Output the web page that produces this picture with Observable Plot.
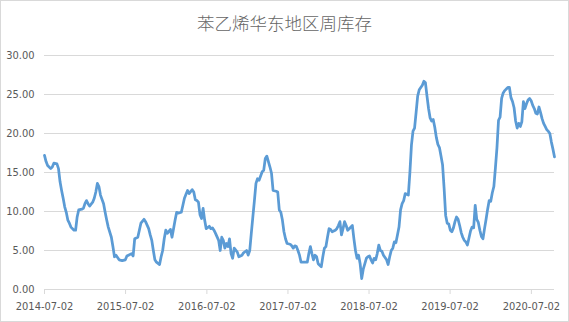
<!DOCTYPE html>
<html><head><meta charset="utf-8">
<script src="https://cdn.jsdelivr.net/npm/d3@7"></script>
<script src="https://cdn.jsdelivr.net/npm/@observablehq/plot@0.6"></script>
<style>
html,body{margin:0;padding:0;background:#fff;}
#chart{position:absolute;left:0;top:0;width:569px;height:322px;box-sizing:border-box;border:1px solid #d9d9d9;background:#fff;overflow:hidden;}
#title{height:39px;box-sizing:border-box;padding-top:11px;text-align:center;font-family:"Noto Sans CJK SC",sans-serif;font-weight:300;font-size:17.5px;line-height:22px;color:#666666;}
</style></head><body>
<div id="chart"><div id="title"></div></div>
<script>
const chartTitle = "苯乙烯华东地区周库存";
const startDate = "2014-07-02";
// week number since 2014-07-02
const weekOffsets = [
0,1,2,4,5,6,8,9,10,11,
12,13,14,15,16,17,19,20,21,22,
24,25,26,27,28,29,31,32,33,34,
35,36,38,39,40,41,43,44,45,46,
48,50,52,53,54,56,57,58,60,61,
62,64,65,67,68,69,70,71,72,74,
75,76,77,78,79,81,82,83,84,85,
86,88,89,90,91,92,93,95,96,97,
98,99,100,101,102,103,104,106,107,108,
109,110,112,113,114,115,116,117,118,119,
120,121,122,124,125,127,128,130,131,132,
133,134,135,136,137,138,140,141,142,143,
144,145,146,147,149,150,151,152,153,154,
155,156,158,159,160,161,162,163,164,165,
167,169,170,171,172,173,174,175,176,177,
178,179,180,181,182,183,184,185,186,187,
188,189,190,191,192,193,194,195,196,198,
199,200,201,202,203,204,205,206,207,208,
209,210,211,212,213,214,215,216,217,218,
220,221,222,223,224,225,226,227,228,229,
230,231,232,234,
235,236,237,238,239,240,241,242,243,244,
245,246,247,248,249,250,251,252,253,254,
255,256,257,258,259,260,261,262,263,264,
265,266,267,268,269,270,271,272,273,274,
275,276,277,278,279,280,281,282,283,284,
285,286,287,288,289,290,291,292,293,294,
295,296,297,298,299,300,301,302,303,304,
305,306,307,308,309,310,311,312,313,314,
315,316,317,318,319,320,321,322,323,324,
325,326,327,328
];
const inventory = [
17.2,16.4,15.9,15.5,15.7,16.2,16.1,15.5,13.8,12.7,
11.7,10.6,9.9,8.9,8.5,8.0,7.6,7.6,9.3,10.2,
10.3,10.4,11.0,11.4,11.0,10.7,11.2,11.7,12.5,13.6,
13.2,12.1,11.0,9.9,8.9,8.0,6.7,5.5,4.2,4.4,
3.8,3.7,3.8,4.3,4.4,4.6,4.3,6.5,6.7,7.6,
8.5,9.0,8.7,7.8,7.0,6.3,5.0,3.8,3.5,3.2,
4.2,5.0,6.5,7.6,7.2,7.7,6.7,7.8,8.9,9.9,
9.8,9.9,10.8,11.7,12.2,12.7,12.3,12.8,12.5,11.5,
11.4,11.2,9.6,9.1,10.4,8.9,7.8,8.1,7.8,7.9,
7.6,7.2,6.3,5.0,6.7,6.3,5.3,5.9,5.5,6.5,
4.6,4.0,5.3,4.8,4.2,4.4,4.7,5.0,4.4,5.0,
7.2,9.3,11.4,13.6,14.2,14.0,15.1,15.3,16.8,17.1,
16.4,15.7,14.9,12.7,12.6,12.5,10.2,9.9,8.9,7.4,
6.5,5.9,5.8,5.6,5.3,5.6,5.5,5.0,4.4,3.5,
3.5,3.5,4.6,5.5,4.6,3.8,4.4,4.2,3.3,3.1,
2.9,4.2,5.3,5.5,6.7,7.8,7.7,7.4,7.5,7.6,
7.8,8.2,8.7,7.0,7.8,8.7,8.2,7.6,7.8,8.2,
6.5,5.0,4.0,4.4,3.3,1.4,2.6,3.3,4.0,4.2,
4.3,3.8,3.4,4.0,3.8,4.6,5.7,5.0,4.9,4.4,
3.8,3.2,4.2,5.0,5.3,6.1,6.0,7.0,8.0,10.2,
11.0,11.4,12.3,12.1,
15.0,18.5,20.3,20.7,22.7,24.8,25.6,25.9,26.2,26.7,
26.5,24.8,23.2,22.0,21.6,21.8,20.8,19.5,18.6,18.2,
17.1,16.0,13.0,9.5,8.5,8.4,7.6,7.4,7.9,8.7,
9.3,9.0,8.2,7.3,6.7,6.3,6.1,5.7,6.6,7.5,
8.0,7.9,10.8,9.0,8.6,7.6,6.8,6.5,7.8,9.0,
10.3,11.4,11.3,12.4,13.2,15.6,18.2,21.7,22.1,24.5,
25.2,25.5,25.7,25.9,25.9,24.6,24.1,23.3,21.6,20.7,
21.3,20.9,21.5,24.1,23.2,23.8,24.3,24.5,24.2,23.6,
23.2,22.6,22.5,23.4,22.7,21.9,21.3,20.9,20.5,20.3,
20.0,18.9,18.0,17.0
];
const yTicks = [0, 5, 10, 15, 20, 25, 30];
const xTickLabels = ["2014-07-02","2015-07-02","2016-07-02","2017-07-02","2018-07-02","2019-07-02","2020-07-02"];

document.getElementById("title").textContent = chartTitle;

const parse = d3.utcParse("%Y-%m-%d");
const start = parse(startDate);
const data = weekOffsets.map((w, i) => ({date: d3.utcDay.offset(start, 7 * w), value: inventory[i]}));
const xTicks = xTickLabels.map(parse);
const fmtDate = d3.utcFormat("%Y-%m-%d");

const chart = Plot.plot({
  width: 567,
  height: 281,
  marginLeft: 43,
  marginRight: 14,
  marginTop: 15,
  marginBottom: 32,
  style: {fontFamily: '"Liberation Sans Narrow","DejaVu Sans Condensed","Liberation Sans",sans-serif', fontSize: "11px", color: "#595959", background: "transparent"},
  x: {type: "utc", domain: d3.extent(data, d => d.date)},
  y: {domain: [0, 30]},
  marks: [
    Plot.ruleY(yTicks, {stroke: "#d9d9d9", strokeWidth: 1}),
    Plot.axisY(yTicks, {tickSize: 0, tickPadding: 10, tickFormat: d3.format(".2f"), label: null}),
    Plot.axisX(xTicks, {tickSize: 5, tickPadding: 8, tickFormat: fmtDate, stroke: "#d9d9d9", label: null}),
    Plot.line(data, {x: "date", y: "value", stroke: "#5B9BD5", strokeWidth: 2.75, strokeLinejoin: "round", strokeLinecap: "round"})
  ]
});
document.getElementById("chart").appendChild(chart);
</script>
</body></html>
